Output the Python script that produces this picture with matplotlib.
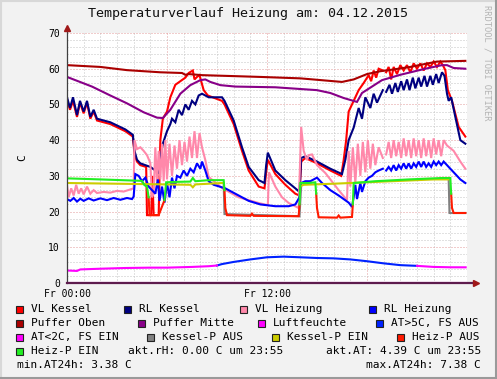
import numpy as np
import matplotlib
matplotlib.use('Agg')
import matplotlib.pyplot as plt
from matplotlib.patches import Rectangle
from matplotlib.lines import Line2D

nan = np.nan

# time in hours since Fr 00:00, values in C
vlk_t = [0, 0.18, 0.36, 0.6, 0.78, 1.0, 1.2, 1.4, 1.6, 1.8,
         2.6, 3.5, 3.95, 4.05, 4.2, 4.4, 4.75, 4.8, 5.05, 5.12,
         5.2, 5.5, 5.6, 5.75, 6.0, 6.2, 6.5, 6.8, 7.1, 7.3,
         7.55, 7.65, 7.8, 7.95, 8.2, 8.45, 9.3, 9.45, 10.0, 10.5,
         10.9, 11.5, 11.85, 11.95, 12.05, 12.5, 13.1, 13.7, 13.95, 14.05,
         14.3, 15.0, 15.8, 16.45, 16.6, 16.75, 16.9, 17.2, 17.5, 17.8,
         18.1, 18.25, 18.4, 18.55, 18.7, 18.95, 19.05, 19.15, 19.3, 19.45,
         19.6, 19.8, 20.0, 20.2, 20.4, 20.6, 20.8, 21.0, 21.2, 21.4,
         21.6, 21.8, 22.0, 22.2, 22.4, 22.55, 22.7, 22.85, 23.1, 23.5,
         23.9]
vlk_v = [51.5, 48.5, 51, 46.5, 50.5, 47.5, 50.5, 46, 48, 45.5,
         44.5, 42.5, 41, 36, 34, 33, 32.5, 19, 19, 30,
         19, 19, 40, 46, 48, 52, 55.5, 56.5, 57.5, 58.8,
         59.5, 57, 57.7, 58.2, 54, 52.5, 51, 50, 44.5, 37,
         31.5, 27, 26.5, 31, 34.5, 30.5, 27.5, 25, 24.5, 34,
         35, 33.5, 31.5, 30, 34.4, 40, 48, 51, 54, 56,
         58.2, 56.5, 59.5, 57.5, 60, 59.5, nan, 59, 60.5, 57,
         60.5, 58.5, 61, 59.5, 61, 59, 61.5, 60, 61.5, 59.5,
         61.5, 60.5, 62, 60.5, 62, 61, 59.6, 54, 51, 43.7,
         41]

rlk_t = [0, 0.18, 0.36, 0.6, 0.78, 1.0, 1.2, 1.4, 1.6, 1.8,
         2.6, 3.5, 3.95, 4.05, 4.2, 4.4, 5.0, 5.3, 5.45, 5.6,
         5.75, 6.0, 6.2, 6.3, 6.5, 6.7, 6.9, 7.1, 7.3, 7.5,
         7.7, 7.9, 8.1, 8.5, 9.3, 9.45, 10.0, 10.5, 10.9, 11.5,
         11.85, 11.95, 12.05, 12.5, 13.1, 13.7, 13.95, 14.05, 14.3, 15.0,
         15.8, 16.5, 16.7, 16.9, 17.2, 17.5, 17.7, 17.9, 18.2, 18.4,
         18.6, 18.95, 19.05, 19.15, 19.35, 19.5, 19.7, 19.85, 20.05, 20.2,
         20.4, 20.55, 20.75, 20.9, 21.1, 21.25, 21.45, 21.6, 21.8, 21.95,
         22.15, 22.3, 22.5, 22.65, 22.8, 22.9, 23.05, 23.3, 23.6, 23.9]
rlk_v = [52, 49, 52, 47, 51, 48, 51, 46.5, 48.5, 46,
         45, 43, 41.5, 37, 34.5, 33.5, 32.5, 31.5, 31, 35,
         39, 42.5, 44.5, 46, 45, 48.5, 47, 50, 48.5, 51,
         50, 52.5, 53, 52, 52, 51, 45.5, 38, 32.5, 28.8,
         28, 33, 36.5, 31.5, 28.8, 26.5, 25.5, 35, 35.5, 34,
         32, 30.5, 34.5, 40, 43.5, 49, 46, 52, 49, 53,
         50.5, 54, nan, 53.5, 55.5, 53, 56, 53.5, 56.5, 54,
         57, 54, 57.5, 54.5, 57.5, 55, 58, 55, 58, 55.5,
         58.5, 56, 59, 58, 53, 51, 52, 46.5, 40, 39]

vlh_t = [0, 0.1, 0.25, 0.4, 0.55, 0.7, 0.85, 1.0, 1.2, 1.4,
         1.6, 1.8, 2.2, 2.6, 3.0, 3.4, 3.8, 4.0, 4.05, 4.2,
         4.4, 4.6, 4.8, 5.0, 5.1, 5.2, 5.3, 5.4, 5.5, 5.6,
         5.7, 5.8, 5.9, 6.0, 6.15, 6.3, 6.45, 6.6, 6.75, 6.9,
         7.05, 7.2, 7.35, 7.5, 7.65, 7.8, 7.95, 8.1, 8.3, 8.5,
         9.3, 10.3, 11.5, 12.05, 12.12, 12.5, 12.9, 13.3, 13.9, 14.05,
         14.2, 14.4, 14.5, 14.7, 15.0, 15.5, 16.3, 16.8, 16.9, 17.0,
         17.15, 17.3, 17.45, 17.6, 17.75, 17.9, 18.05, 18.2, 18.35, 18.5,
         18.7, 18.95, 19.05, 19.15, 19.3, 19.45, 19.6, 19.75, 19.9, 20.05,
         20.2, 20.35, 20.5, 20.65, 20.8, 20.95, 21.1, 21.25, 21.4, 21.55,
         21.7, 21.85, 22.0, 22.15, 22.3, 22.45, 22.6, 22.8, 23.2, 23.6,
         23.9]
vlh_v = [27.4, 24, 26.5, 24.5, 27.5, 25, 26.5, 24.8, 27, 25,
         26, 25.2, 25.5, 25.3, 25.8, 25.6, 26.2, 26.5, 40, 37.5,
         38, 37, 35.8, 33.6, 24, 25, 38, 28.5, 37, 29,
         39, 28.5, 40, 29, 39, 30, 38.5, 32, 40, 33,
         39.5, 34, 41, 35, 42.5, 35, 42, 38, 34.4, 29.7,
         26.6, 24, 22.4, 21.8, 31, 27, 24, 22.4, 21, 43.7,
         37, 34.4, 35.8, 36, 33, 30.8, 26, 23.2, 37, 27,
         38, 28, 39, 30, 39.5, 31, 40, 32, 39, 33,
         38, 35, nan, 36, 39.5, 35, 40, 35.5, 39.5, 35,
         40.5, 35.5, 40, 35, 40.5, 35.5, 40, 35, 40.5, 35.5,
         40, 35, 40.5, 36, 40, 35.5, 40, 38.5, 37, 34,
         32]

rlh_t = [0, 0.2, 0.4, 0.6, 0.8, 1.0, 1.3, 1.6, 2.0, 2.4,
         2.8, 3.2, 3.6, 3.9, 4.0, 4.1, 4.3, 4.5, 4.7, 4.9,
         5.1, 5.3, 5.45, 5.55, 5.7, 5.85, 6.0, 6.15, 6.3, 6.45,
         6.6, 6.8, 7.0, 7.2, 7.4, 7.6, 7.8, 8.0, 8.1, 8.3,
         8.5, 8.8, 9.5, 10.3, 10.9, 11.6, 12.5, 13.3, 13.7, 13.95,
         14.05, 14.3, 14.6, 15.0, 15.3, 15.8, 16.3, 16.9, 17.1, 17.2,
         17.3, 17.4, 17.6, 17.7, 17.9, 18.1, 18.3, 18.5, 18.7, 18.95,
         19.05, 19.15, 19.3, 19.45, 19.6, 19.75, 19.9, 20.05, 20.2, 20.35,
         20.5, 20.65, 20.8, 20.95, 21.1, 21.25, 21.4, 21.55, 21.7, 21.85,
         22.0, 22.15, 22.3, 22.45, 22.6, 22.8, 23.2, 23.6, 23.9]
rlh_v = [23.5, 23, 23.8, 22.8, 23.6, 23, 23.7, 23.1, 23.7, 23.2,
         23.8, 23.3, 23.8, 23.5, 24.2, 30.5, 30, 28.5, 29.5, 27,
         26, 25, 29, 23, 27, 22.5, 28, 24, 29.5, 26.5,
         30, 29.5, 31.5, 30, 32, 31, 33.5, 32, 34, 31.5,
         28.5, 27.5, 26.5, 24.5, 23, 22, 21.5, 21.5, 22, 24,
         28, 28.5, 28.5, 29.5, 28, 26, 24.5, 22.5, 21.3, 24,
         27.5, 23.5, 28, 25.5, 28.5, 29.5, 30, 31, 31.5, 32,
         nan, 31.5, 32.5, 31.5, 33, 31.5, 33, 32, 33.5, 32,
         33.5, 32, 33.5, 32.5, 34, 32.5, 34, 32.5, 33.5, 32.5,
         34, 33, 34, 33, 34, 33, 31, 29, 28]

po_t = [0, 2, 3.6, 5.6, 6.9, 7.1, 7.3, 8.1, 11.6, 14, 16.5, 17.2, 18.0, 18.8, 19.3, 20.6, 22.2, 23.9]
po_v = [61, 60.5, 59.6, 59, 58.8, 58.3, 58.5, 58.2, 57.7, 57.3, 56.3, 57, 58.5, 59.3, 59.6, 60.5, 62, 62.2]

pm_t = [0, 1.5, 2.6, 3.6, 4.6, 5.4, 5.75, 6.2, 6.8, 7.4, 8.0, 8.3, 8.6, 9.2,
        10.1, 12.5, 15, 15.8, 16.6, 17.4, 17.7, 18.9, 20, 21.5, 22.5, 22.8, 23.2, 23.9]
pm_v = [57.7, 55, 52.5, 50.3, 47.8, 46.3, 46.2, 48.5, 53, 55.4, 56.8, 57, 56.3, 55.4,
        55, 54.8, 54, 53.2, 51.8, 50.7, 53.2, 56.8, 58.3, 60, 61, 61, 60.2, 60]

rh_t = [0, 23.92]
rh_v = [0, 0]

at_lo1_t = [0, 0.6, 0.8, 2, 3.5, 5, 6, 7.5, 8.5, 9.0]
at_lo1_v = [3.5, 3.38, 3.8, 4.0, 4.2, 4.3, 4.3, 4.5, 4.7, 4.9]
at_hi_t = [9.0, 9.3, 10, 11, 12, 13, 14, 15, 16, 17, 18, 19, 20, 21]
at_hi_v = [4.9, 5.3, 5.9, 6.6, 7.2, 7.38, 7.2, 7.0, 6.9, 6.6, 6.1, 5.5, 5.0, 4.8]
at_lo2_t = [21, 22, 23, 23.92]
at_lo2_v = [4.8, 4.5, 4.4, 4.39]

kpa_t = [9.4, 9.45, 13.95, 14.05, nan, 22.9, 22.95, 23.9]
kpa_v = [28, 19.3, 18.7, 27.2, nan, 29, 19.6, 19.6]
kpe_t = [0, 3, 6, 7.4, 7.55, 7.7, 9.3, 9.4, nan, 14.05, 14.2, 16, 18, 20, 22, 22.9]
kpe_v = [28, 27.8, 27.6, 27.5, 26.8, 27.6, 28, 28, nan, 27.2, 27.5, 27.8, 28.2, 28.6, 29, 29]

hpa_t = [4.9, 4.95, 5.5, 5.85, nan, 9.45, 9.5, 9.6, 11.0, 11.1,
         11.2, 13.9, 13.95, nan, 14.95, 15.0, 15.1, 16.2, 16.3, 16.4,
         17.1, 17.15, nan, 23.05, 23.1, 23.2, 23.9]
hpa_v = [24, 19, 19, 23.2, nan, 26, 21, 19, 18.8, 19.4,
         18.8, 18.7, 22, nan, 25, 21, 18.4, 18.3, 18.9, 18.3,
         18.5, 22, nan, 25, 21, 19.6, 19.6]
hpe_t = [0, 2, 4.5, 4.65, 4.8, 4.9, nan, 5.85, 5.95, 6.5, 7.4, 7.55, 7.7, 8.5, 9.4, 9.45,
         nan, 13.95, 14.0, 14.5, 14.9, 14.95, nan, 17.15, 17.2, 18.5, 20.5, 22.5, 23.0, 23.05]
hpe_v = [29.3, 29, 28.6, 27.4, 27, 24, nan, 23.2, 28.2, 28.3, 28.4, 29.4, 28.5, 28.8, 28.8, 26,
         nan, 22, 28, 28, 28.2, 25, nan, 22, 28, 28.5, 29, 29.4, 29.4, 25]

legend_labels = ['VL Kessel', 'RL Kessel', 'VL Heizung', 'RL Heizung',
                 'Puffer Oben', 'Puffer Mitte', 'Luftfeuchte', 'AT>5C, FS AUS',
                 'AT<2C, FS EIN', 'Kessel-P AUS', 'Kessel-P EIN', 'Heiz-P AUS',
                 'Heiz-P EIN']
legend_colors = ['#ff0000', '#000080', '#ff88aa', '#0000ff',
                 '#aa0000', '#880088', '#ff00ff', '#0022ff',
                 '#ff00ff', '#808080', '#cccc00', '#ff1a00',
                 '#22ee22']

xtick_pos = [0, 6, 12, 18, 24]
xtick_lab = ['Fr 00:00', '', 'Fr 12:00', '', '']
ytick_pos = [0, 10, 20, 30, 40, 50, 60, 70]

W, H = 497, 379
def fx(px):
    return px / W
def fy(py):
    return 1 - py / H

mono = 'DejaVu Sans Mono'
plt.rcParams['font.family'] = mono

fig = plt.figure(figsize=(W / 100, H / 100), dpi=100, facecolor='#f2f2f2')
ax = fig.add_axes([fx(67), fy(283), 400 / W, 250 / H])
ax.set_facecolor('white')

series = [
    (vlk_t, vlk_v, legend_colors[0]),
    (rlk_t, rlk_v, legend_colors[1]),
    (vlh_t, vlh_v, legend_colors[2]),
    (rlh_t, rlh_v, legend_colors[3]),
    (po_t, po_v, legend_colors[4]),
    (pm_t, pm_v, legend_colors[5]),
    (rh_t, rh_v, legend_colors[6]),
    (at_hi_t, at_hi_v, legend_colors[7]),
    (at_lo1_t, at_lo1_v, legend_colors[8]),
    (at_lo2_t, at_lo2_v, legend_colors[8]),
    (kpa_t, kpa_v, legend_colors[9]),
    (kpe_t, kpe_v, legend_colors[10]),
    (hpa_t, hpa_v, legend_colors[11]),
    (hpe_t, hpe_v, legend_colors[12]),
]
for i, (t, v, c) in enumerate(series):
    ax.plot(np.array(t, float), np.array(v, float), color=c, lw=1.5, zorder=3 + i * 0.01,
            solid_joinstyle='miter')

ax.set_xlim(0, 24)
ax.set_ylim(0, 70)
ax.set_xticks(xtick_pos)
ax.set_xticklabels(xtick_lab)
ax.set_xticks(np.arange(0, 25, 1), minor=True)
ax.set_yticks(ytick_pos)
ax.set_yticks(np.arange(0, 71, 2), minor=True)
ax.tick_params(which='both', length=0)
ax.tick_params(axis='y', pad=5, labelsize=7)
ax.tick_params(axis='x', pad=4, labelsize=7)
ax.grid(which='minor', color='#c4c4c4', lw=0.72, ls=(0, (1, 2)), zorder=1)
ax.grid(which='major', color='#e39a9a', lw=0.72, ls=(0, (1, 2)), zorder=2)
for s in ax.spines.values():
    s.set_visible(False)

# axes with arrows, rrdtool style
ax.plot([0, 0], [0, 71.2], color='#404040', lw=0.9, clip_on=False, zorder=6)
ax.plot([0, 24.5], [0, 0], color='#5e1c4e', lw=1.6, clip_on=False, zorder=6)
ax.plot([0], [71.5], marker='^', ms=5, color='#a01818', clip_on=False, zorder=7)
ax.plot([24.55], [0], marker='>', ms=5, color='#a01818', clip_on=False, zorder=7)

fig.text(fx(248), fy(14), 'Temperaturverlauf Heizung am: 04.12.2015',
         ha='center', va='center', fontsize=9.6, color='#111111')
fig.text(fx(22), fy(158), 'C', rotation=90, ha='center', va='center', fontsize=8)
fig.text(fx(487), fy(5), 'RRDTOOL / TOBI OETIKER', rotation=270, ha='center', va='top',
         fontsize=6.3, color='#b4b4b4')

# legend, 4 columns per row
box_x = [16, 124, 240, 369,
         16, 138, 258, 376,
         16, 147, 272, 397,
         16]
row_y = [309, 323, 337, 351]
for i, (lab, col) in enumerate(zip(legend_labels, legend_colors)):
    r = i // 4
    bx, by = box_x[i], row_y[r]
    fig.add_artist(Rectangle((fx(bx), fy(by + 4)), 7 / W, 7 / H, transform=fig.transFigure,
                             facecolor=col, edgecolor='#222222', lw=0.8))
    fig.text(fx(bx + 15), fy(by), lab, ha='left', va='center', fontsize=8)

fig.text(fx(128), fy(351), 'akt.rH: 0.00 C um 23:55', ha='left', va='center', fontsize=8)
fig.text(fx(481), fy(351), 'akt.AT: 4.39 C um 23:55', ha='right', va='center', fontsize=8)
fig.text(fx(17), fy(365), 'min.AT24h: 3.38 C', ha='left', va='center', fontsize=8)
fig.text(fx(481), fy(365), 'max.AT24h: 7.38 C', ha='right', va='center', fontsize=8)

# 3d frame
fig.add_artist(Line2D([0, 1], [fy(1), fy(1)], transform=fig.transFigure, color='#d8d8d8', lw=1.5))
fig.add_artist(Line2D([fx(1), fx(1)], [0, 1], transform=fig.transFigure, color='#d8d8d8', lw=1.5))
fig.add_artist(Line2D([0, 1], [fy(378), fy(378)], transform=fig.transFigure, color='#9a9a9a', lw=1.5))
fig.add_artist(Line2D([fx(496), fx(496)], [0, 1], transform=fig.transFigure, color='#9a9a9a', lw=1.5))

fig.savefig('out.png', dpi=100, facecolor=fig.get_facecolor())
